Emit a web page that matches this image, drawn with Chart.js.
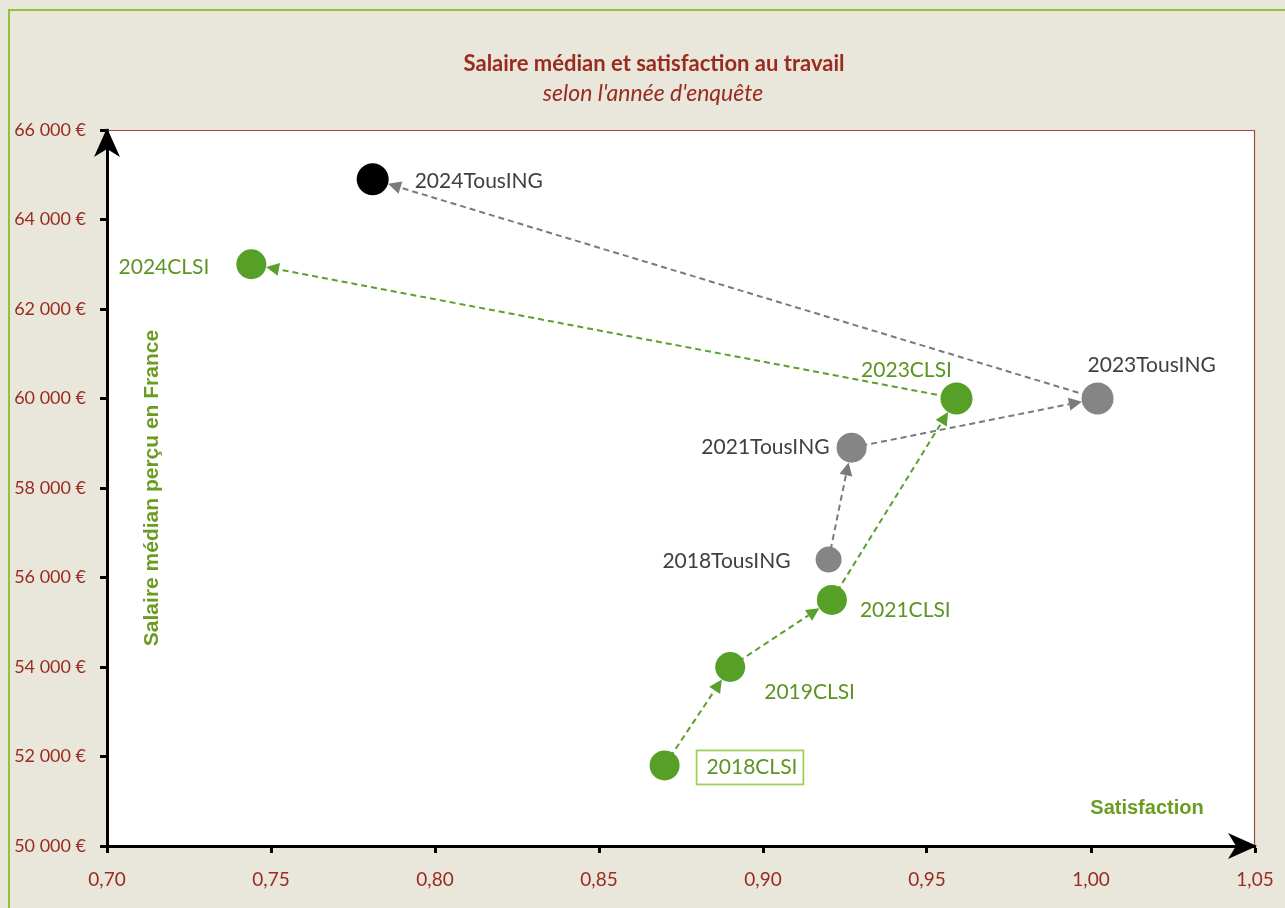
<!DOCTYPE html>
<html>
<head>
<meta charset="utf-8">
<script src="https://cdn.jsdelivr.net/npm/chart.js@4.4.1/dist/chart.umd.min.js"></script>
<style>
  html, body { margin: 0; padding: 0; background: #E9E6DB; overflow: hidden; }
  #cadre { position: absolute; left: 8px; top: 9px; width: 1300px; height: 920px;
           border-left: 2px solid #93C13D; border-top: 2px solid #93C13D; }
  #zone { position: absolute; left: 0; top: 0; width: 1285px; height: 908px; }
</style>
</head>
<body>
<div id="cadre"></div>
<div id="zone"><canvas id="grafico"></canvas></div>
<script>
// Données
const clsiLabels = ['2018CLSI', '2019CLSI', '2021CLSI', '2023CLSI', '2024CLSI'];
const clsiSatisfaction = [0.870, 0.890, 0.921, 0.959, 0.744];
const clsiSalaire = [51800, 54000, 55500, 60000, 63000];

const ingLabels = ['2018TousING', '2021TousING', '2023TousING', '2024TousING'];
const ingSatisfaction = [0.920, 0.927, 1.002, 0.781];
const ingSalaire = [56400, 58900, 60000, 64900];

const yTicks = [50000, 52000, 54000, 56000, 58000, 60000, 62000, 64000, 66000];
const xTicks = [0.70, 0.75, 0.80, 0.85, 0.90, 0.95, 1.00, 1.05];

const titre = 'Salaire médian et satisfaction au travail';
const sousTitre = "selon l'année d'enquête";

// Couleurs
const vert = '#56A027';
const vertTrait = '#5AA02C';
const vertTexte = '#5E9424';
const gris = '#858585';
const grisTrait = '#7A7A7A';
const grisTexte = '#404040';
const rouge = '#9A2B1F';

// Position des étiquettes par rapport au point (dx, dy, alignement)
const posClsi = [
    {dx: 42, dy: 2, align: 'left', cadre: true},
    {dx: 34, dy: 25, align: 'left'},
    {dx: 28, dy: 10, align: 'left'},
    {dx: -50, dy: -28, align: 'center'},
    {dx: -42, dy: 3, align: 'right'}
];
const posIng = [
    {dx: -38, dy: 2, align: 'right'},
    {dx: -22, dy: 0, align: 'right'},
    {dx: -10, dy: -33, align: 'left'},
    {dx: 42, dy: 2, align: 'left'}
];

function versPoints(xs, ys) {
    let pts = [];
    for (let i = 0; i < xs.length; i++) {
        pts.push({x: xs[i], y: ys[i]});
    }
    return pts;
}

function formatEuro(v) {
    let s = Math.round(v).toString();
    s = s.replace(/\B(?=(\d{3})+(?!\d))/g, ' ');
    return s + ' €';
}

//Flèche pointillée d'un point à l'autre, arrêtée au bord du cercle d'arrivée
function fleche(ctx, x1, y1, x2, y2, couleur, rayon) {
    const ang = Math.atan2(y2 - y1, x2 - x1);
    const cx = Math.cos(ang), sy = Math.sin(ang);
    const tipX = x2 - cx * rayon, tipY = y2 - sy * rayon;
    const long = 13, larg = 6.5;
    const baseX = tipX - cx * long, baseY = tipY - sy * long;
    ctx.save();
    ctx.strokeStyle = couleur;
    ctx.fillStyle = couleur;
    ctx.lineWidth = 2;
    ctx.setLineDash([6, 4]);
    ctx.beginPath();
    ctx.moveTo(x1, y1);
    ctx.lineTo(baseX, baseY);
    ctx.stroke();
    ctx.setLineDash([]);
    ctx.beginPath();
    ctx.moveTo(tipX, tipY);
    ctx.lineTo(baseX - sy * larg, baseY + cx * larg);
    ctx.lineTo(baseX + sy * larg, baseY - cx * larg);
    ctx.closePath();
    ctx.fill();
    ctx.restore();
}

const decor = {
    id: 'decor',
    beforeDraw(chart) {
        const a = chart.chartArea, ctx = chart.ctx;
        ctx.save();
        ctx.fillStyle = '#FFFFFF';
        ctx.fillRect(a.left, a.top, a.right - a.left, a.bottom - a.top);
        // titre et sous-titre
        ctx.fillStyle = rouge;
        ctx.textAlign = 'center';
        ctx.textBaseline = 'middle';
        ctx.font = 'bold 22px Lato, sans-serif';
        ctx.fillText(titre, 654, 64);
        ctx.font = 'italic 23px Lato, sans-serif';
        ctx.fillText(sousTitre, 653, 94);
        ctx.restore();
    },
    beforeDatasetsDraw(chart) {
        const ctx = chart.ctx, sx = chart.scales.x, sy = chart.scales.y;
        const rClsi = chart.data.datasets[0].pointRadius;
        const rIng = chart.data.datasets[1].pointRadius;
        for (let i = 1; i < clsiSatisfaction.length; i++) {
            fleche(ctx,
                sx.getPixelForValue(clsiSatisfaction[i - 1]), sy.getPixelForValue(clsiSalaire[i - 1]),
                sx.getPixelForValue(clsiSatisfaction[i]), sy.getPixelForValue(clsiSalaire[i]),
                vertTrait, rClsi[i]);
        }
        for (let i = 1; i < ingSatisfaction.length; i++) {
            fleche(ctx,
                sx.getPixelForValue(ingSatisfaction[i - 1]), sy.getPixelForValue(ingSalaire[i - 1]),
                sx.getPixelForValue(ingSatisfaction[i]), sy.getPixelForValue(ingSalaire[i]),
                grisTrait, rIng[i]);
        }
    },
    afterDraw(chart) {
        const a = chart.chartArea, ctx = chart.ctx, sx = chart.scales.x, sy = chart.scales.y;
        ctx.save();
        // bordure haut / droite de la zone de traçage
        ctx.strokeStyle = '#9E4A3E';
        ctx.lineWidth = 1.2;
        ctx.beginPath();
        ctx.moveTo(a.left, a.top + 0.5);
        ctx.lineTo(a.right - 0.5, a.top + 0.5);
        ctx.lineTo(a.right - 0.5, a.bottom);
        ctx.stroke();

        // pointes de flèche des axes
        ctx.fillStyle = '#000';
        ctx.beginPath();
        ctx.moveTo(a.left, a.top - 2);
        ctx.lineTo(a.left - 13, a.top + 27);
        ctx.lineTo(a.left, a.top + 19);
        ctx.lineTo(a.left + 13, a.top + 27);
        ctx.closePath();
        ctx.fill();
        ctx.beginPath();
        ctx.moveTo(a.right + 2, a.bottom);
        ctx.lineTo(a.right - 27, a.bottom - 13);
        ctx.lineTo(a.right - 19, a.bottom);
        ctx.lineTo(a.right - 27, a.bottom + 13);
        ctx.closePath();
        ctx.fill();

        // titres des axes (dans la zone de traçage)
        ctx.fillStyle = '#6A9C22';
        ctx.textAlign = 'center';
        ctx.textBaseline = 'middle';
        ctx.font = 'bold 20px "Liberation Sans", Arial, sans-serif';
        ctx.fillText('Satisfaction', 1147, 808);
        ctx.save();
        ctx.translate(152, 488);
        ctx.rotate(-Math.PI / 2);
        ctx.font = 'bold 21px "Liberation Sans", Arial, sans-serif';
        ctx.fillText('Salaire médian perçu en France', 0, 0);
        ctx.restore();

        // étiquettes des points
        ctx.font = '21px Lato, sans-serif';
        ctx.textBaseline = 'middle';
        for (let i = 0; i < clsiLabels.length; i++) {
            const p = posClsi[i];
            const x = sx.getPixelForValue(clsiSatisfaction[i]) + p.dx;
            const y = sy.getPixelForValue(clsiSalaire[i]) + p.dy;
            ctx.textAlign = p.align;
            if (p.cadre) {
                const w = ctx.measureText(clsiLabels[i]).width;
                ctx.fillStyle = '#FFFFFF';
                ctx.fillRect(x - 10, y - 17, w + 16, 34);
                ctx.strokeStyle = '#9BD35A';
                ctx.lineWidth = 1.8;
                ctx.strokeRect(x - 10, y - 17, w + 16, 34);
            }
            ctx.fillStyle = vertTexte;
            ctx.fillText(clsiLabels[i], x, y);
        }
        for (let i = 0; i < ingLabels.length; i++) {
            const p = posIng[i];
            ctx.textAlign = p.align;
            ctx.fillStyle = grisTexte;
            ctx.fillText(ingLabels[i],
                sx.getPixelForValue(ingSatisfaction[i]) + p.dx,
                sy.getPixelForValue(ingSalaire[i]) + p.dy);
        }
        ctx.restore();
    }
};

var context = document.getElementById('grafico');
var grafico = new Chart(context, {
    type: 'scatter',
    data: {
        datasets: [
            {
                label: 'CLSI',
                data: versPoints(clsiSatisfaction, clsiSalaire),
                backgroundColor: vert,
                borderColor: vert,
                pointRadius: [15, 15, 15, 16, 15],
                borderWidth: 0
            },
            {
                label: 'Tous ING',
                data: versPoints(ingSatisfaction, ingSalaire),
                backgroundColor: [gris, gris, gris, '#000000'],
                borderColor: [gris, gris, gris, '#000000'],
                pointRadius: [13, 15, 16, 16],
                borderWidth: 0
            }
        ]
    },
    options: {
        responsive: true,
        maintainAspectRatio: false,
        animation: false,
        events: [],
        layout: { padding: { left: 0, top: 130, right: 30, bottom: 0 } },
        plugins: {
            legend: { display: false },
            tooltip: { enabled: false },
            title: { display: false }
        },
        scales: {
            x: {
                type: 'linear',
                min: 0.70,
                max: 1.05,
                afterBuildTicks: function(scale) {
                    scale.ticks = xTicks.map(v => ({ value: v }));
                },
                afterFit: function(scale) {
                    scale.height = 62;
                    scale.paddingRight = 0;
                },
                border: { color: '#000', width: 3 },
                grid: { drawOnChartArea: false, drawTicks: true, tickLength: 7, tickWidth: 3, tickColor: '#000' },
                ticks: {
                    color: rouge,
                    padding: 15,
                    font: { family: 'Lato', size: 19 },
                    callback: function(v) { return v.toFixed(2).replace('.', ','); }
                }
            },
            y: {
                type: 'linear',
                min: 50000,
                max: 66000,
                afterBuildTicks: function(scale) {
                    scale.ticks = yTicks.map(v => ({ value: v }));
                },
                afterFit: function(scale) {
                    scale.width = 107;
                    scale.paddingTop = 0;
                    scale.paddingBottom = 0;
                },
                border: { color: '#000', width: 3 },
                grid: { drawOnChartArea: false, drawTicks: true, tickLength: 7, tickWidth: 3, tickColor: '#000' },
                ticks: {
                    color: rouge,
                    padding: 14,
                    font: { family: 'Lato', size: 18 },
                    callback: function(v) { return formatEuro(v); }
                }
            }
        }
    },
    plugins: [decor]
});
</script>
</body>
</html>
